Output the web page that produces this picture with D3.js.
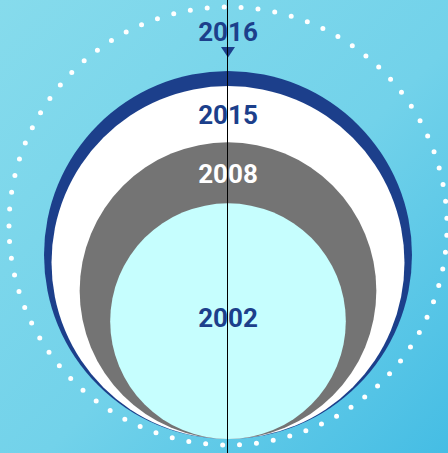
<!DOCTYPE html>
<html>
<head>
<meta charset="utf-8">
<script src="https://cdn.jsdelivr.net/npm/d3@7"></script>
<style>
  html, body { margin: 0; padding: 0; overflow: hidden; }
  #chart { width: 448px; height: 453px; }
</style>
</head>
<body>
<div id="chart"></div>
<script>
// years from outer to inner, values read as circle areas
var years = ["2016", "2015", "2008", "2002"];
var values = [100, 92, 65, 41];
var fills = ["#1c3f8b", "#ffffff", "#747474", "#c6fefe"];
var labelColors = ["#1c3f8b", "#1c3f8b", "#ffffff", "#1c3f8b"];

var width = 448, height = 453;
var cx = 228, baseY = 439;

var svg = d3.select("#chart").append("svg")
    .attr("width", width)
    .attr("height", height);

// background
var defs = svg.append("defs");
var grad = defs.append("linearGradient")
    .attr("id", "bg")
    .attr("x1", "0").attr("y1", "0")
    .attr("x2", "1").attr("y2", "1");
grad.append("stop").attr("offset", "0%").attr("stop-color", "#86dbec");
grad.append("stop").attr("offset", "55%").attr("stop-color", "#72d2ea");
grad.append("stop").attr("offset", "100%").attr("stop-color", "#45bde4");

svg.append("rect")
    .attr("width", width)
    .attr("height", height)
    .attr("fill", "url(#bg)");

// dotted outer ring
svg.append("circle")
    .attr("cx", cx)
    .attr("cy", 226)
    .attr("r", 219)
    .attr("fill", "none")
    .attr("stroke", "#ffffff")
    .attr("stroke-width", 5)
    .attr("stroke-linecap", "round")
    .attr("stroke-dasharray", "0 17")
    .attr("transform", "rotate(180," + cx + ",226)");

var r = d3.scaleSqrt()
    .domain([0, d3.max(values)])
    .range([0, 184]);

var data = years.map(function(y, i) {
  return { year: y, value: values[i], fill: fills[i], color: labelColors[i] };
});

// nested circles sharing the bottom point
svg.selectAll("circle.bubble")
    .data(data)
  .enter().append("circle")
    .attr("class", "bubble")
    .attr("cx", cx)
    .attr("cy", function(d) { return baseY - r(d.value); })
    .attr("r", function(d) { return r(d.value); })
    .attr("fill", function(d) { return d.fill; });

// label positions
function topOf(i) { return baseY - 2 * r(values[i]); }

var labelY = data.map(function(d, i) {
  if (i === 0) return topOf(0) - 30;
  if (i === data.length - 1) return baseY - r(d.value) + 6;
  return (topOf(i) + topOf(i + 1)) / 2 + 10;
});

// marker under the outer label
var t0 = topOf(0);
svg.append("path")
    .attr("d", "M" + (cx - 7) + "," + (t0 - 24) + "L" + (cx + 7) + "," + (t0 - 24) + "L" + cx + "," + (t0 - 13.5) + "Z")
    .attr("fill", "#1c3f8b");

svg.selectAll("text.year")
    .data(data)
  .enter().append("text")
    .attr("class", "year")
    .attr("x", cx)
    .attr("y", function(d, i) { return labelY[i]; })
    .attr("text-anchor", "middle")
    .style("font-family", "Roboto, sans-serif")
    .style("font-weight", "bold")
    .style("font-size", "26px")
    .style("fill", function(d) { return d.color; })
    .text(function(d) { return d.year; });

// center line over everything
svg.append("line")
    .attr("x1", cx - 0.5).attr("x2", cx - 0.5)
    .attr("y1", 0).attr("y2", height)
    .attr("stroke", "#000")
    .attr("stroke-width", 1);
</script>
</body>
</html>
